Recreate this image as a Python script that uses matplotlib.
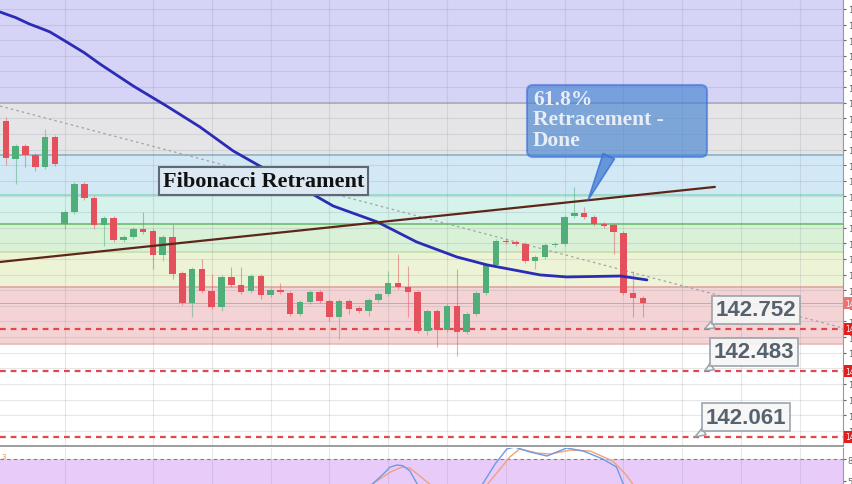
import numpy as np
import matplotlib
matplotlib.use("Agg")
import matplotlib.pyplot as plt
from matplotlib.patches import FancyBboxPatch
from matplotlib.transforms import Affine2D, blended_transform_factory
from matplotlib.ticker import MultipleLocator, NullFormatter

# 4h candles
opens = [144.083, 143.840, 143.923, 143.866, 143.789, 143.981,
         143.424, 143.501, 143.680, 143.590, 143.418, 143.462,
         143.322, 143.341, 143.392, 143.379, 143.226, 143.341,
         143.110, 142.918, 143.136, 142.995, 142.893, 143.085,
         143.034, 142.995, 143.091, 142.970, 143.002, 142.982,
         142.848, 142.925, 142.989, 142.931, 142.829, 142.931,
         142.886, 142.867, 142.938, 142.976, 143.046, 143.021,
         142.989, 142.739, 142.867, 142.746, 142.899, 142.733,
         142.848, 142.982, 143.162, 143.315, 143.309, 143.296,
         143.187, 143.213, 143.290, 143.296, 143.475, 143.494,
         143.469, 143.424, 143.418, 143.366, 142.982, 142.950]
closes = [143.846, 143.923, 143.866, 143.789, 143.981, 143.808,
          143.501, 143.680, 143.590, 143.418, 143.462, 143.322,
          143.341, 143.392, 143.373, 143.226, 143.341, 143.104,
          142.918, 143.136, 142.995, 142.893, 143.085, 143.034,
          142.989, 143.091, 142.970, 143.002, 142.989, 142.848,
          142.925, 142.989, 142.931, 142.829, 142.931, 142.880,
          142.867, 142.938, 142.976, 143.046, 143.021, 142.989,
          142.739, 142.867, 142.746, 142.899, 142.733, 142.848,
          142.982, 143.162, 143.315, 143.309, 143.296, 143.187,
          143.213, 143.290, 143.296, 143.469, 143.494, 143.469,
          143.424, 143.411, 143.373, 142.982, 142.950, 142.918]
highs = [144.109, 143.936, 143.936, 143.878, 144.032, 143.994,
         143.514, 143.693, 143.693, 143.603, 143.475, 143.475,
         143.354, 143.405, 143.501, 143.392, 143.354, 143.424,
         143.123, 143.149, 143.200, 143.104, 143.098, 143.149,
         143.149, 143.104, 143.104, 143.014, 143.046, 142.995,
         142.938, 143.002, 143.002, 142.944, 142.944, 142.944,
         142.899, 142.950, 142.989, 143.123, 143.232, 143.155,
         143.002, 142.880, 142.880, 142.912, 143.136, 142.861,
         142.995, 143.174, 143.328, 143.328, 143.322, 143.309,
         143.226, 143.302, 143.309, 143.482, 143.661, 143.533,
         143.482, 143.437, 143.430, 143.379, 143.123, 142.963]
lows = [143.802, 143.680, 143.789, 143.763, 143.776, 143.795,
        143.392, 143.488, 143.578, 143.392, 143.283, 143.309,
        143.309, 143.328, 143.360, 143.136, 143.187, 143.072,
        142.906, 142.829, 142.982, 142.880, 142.867, 143.021,
        142.976, 142.982, 142.944, 142.957, 142.976, 142.835,
        142.835, 142.912, 142.918, 142.803, 142.688, 142.848,
        142.854, 142.835, 142.925, 142.963, 143.008, 142.829,
        142.726, 142.714, 142.637, 142.733, 142.579, 142.720,
        142.835, 142.970, 143.149, 143.296, 143.283, 143.174,
        143.136, 143.200, 143.277, 143.283, 143.462, 143.456,
        143.411, 143.398, 143.232, 142.970, 142.829, 142.829]

# moving average (blue)
ma_x = [-0.6, 1.0, 2.4, 3.5, 4.5, 6.2, 8.0, 9.6, 13.0, 16.4, 19.8, 23.2, 25.9,
        30.0, 33.4, 37.9, 41.9, 46.0, 49.1, 54.5, 57.2, 62.7, 65.4]
ma_y = [144.781, 144.745, 144.704, 144.678, 144.653, 144.589, 144.520, 144.448,
        144.307, 144.179, 144.045, 143.891, 143.795, 143.661, 143.539, 143.437,
        143.309, 143.213, 143.162, 143.098, 143.085, 143.091, 143.066]

# trend line (brown) and dotted line (gray)
trend_x = [-0.6, 72.3]
trend_y = [143.181, 143.661]
dot_x = [-0.6, 85.4]
dot_y = [144.179, 142.758]

# fibonacci levels, bottom to top
fib_levels = [142.656, 143.020, 143.245, 143.427, 143.609, 143.868, 144.198]
fib_colors = ['#f4d3d5', '#edf4d6', '#d8f1d7', '#d5f2eb', '#d3e8f5', '#e5e5e7', '#d5d3f6']
fib_lines = ['#e8b4b4', '#dda0a0', '#c5dca8', '#62b866', '#8ad6c4', '#86acc4', '#a9a9bd']

# support levels
levels = [142.752, 142.483, 142.061]

# stochastic
stoch_k_x = [30, 36.5, 37.1, 38.5, 39.2, 39.9, 40.5, 41.2, 42.0, 42.8,
             45, 48, 48.6, 49.9, 51.1, 51.9, 53.5, 55.2, 57.2, 58.9,
             60.9, 62.3, 63.0, 63.6, 66]
stoch_k = [20, 30, 42, 59.5, 69, 71.8, 70.8, 64, 45, 30,
           20, 30, 45, 73, 93.7, 96.4, 89.6, 84.1, 95.1, 91,
           80, 69, 45, 30, 20]
stoch_d_x = [30, 36.7, 37.3, 39.2, 40.4, 41.2, 42.2, 43.3, 44.0, 46,
             48.5, 49.1, 50.4, 51.4, 52.4, 54.2, 55.5, 57.6, 59.6, 61.9,
             63.2, 64.0, 64.6, 67]
stoch_d = [20, 30, 45, 62, 69, 67.7, 57, 45, 30, 20,
           30, 45, 66, 82.7, 93.7, 88.2, 86.8, 92.3, 91, 77.3,
           59.5, 45, 30, 20]

day_lines = [6, 15, 21, 27, 33, 39, 45, 51, 57, 63, 69, 75, 81]

W, H, DPI = 852, 485, 100
fig = plt.figure(figsize=(W / DPI, H / DPI), dpi=DPI)
fig.patch.set_facecolor('white')
# pixel coords, origin top-left, for the pasted-on notes
P = Affine2D().scale(1 / DPI, -1 / DPI).translate(0, H / DPI) + fig.dpi_scale_trans

ax = fig.add_axes([0, 38 / H, 843 / W, 447 / H])
ax2 = fig.add_axes([0, 0, 843 / W, 36 / H])

xlim = (-0.6, 85.4)

# background bands
tops = fib_levels[1:] + [145.5]
for lo, hi, c in zip(fib_levels, tops, fib_colors):
    ax.axhspan(lo, hi, color=c, zorder=0, lw=0)
for lv, c in zip(fib_levels, fib_lines):
    ax.axhline(lv, color=c, lw=1.1, zorder=0.5)

ax.set_axisbelow('line')
ax.set_xticks(day_lines)
ax.yaxis.set_major_locator(MultipleLocator(0.1))
ax.grid(True, color='#8c93a0', alpha=0.22, lw=0.8)

# lines under candles
ax.plot(dot_x, dot_y, color='#a3a3a3', lw=0.9, dashes=(2, 2.5), zorder=2)
for lv in levels:
    ax.axhline(lv, color='#e4474a', lw=1.6, dashes=(2.6, 2.2), zorder=2)
ax.axhline(closes[-1], color='#e79a9a', lw=0.7, zorder=2)

# candles
idx = np.arange(len(opens))
o = np.array(opens)
c = np.array(closes)
up = c >= o
cols = np.where(up, '#4fae79', '#e4505b')
ax.vlines(idx, lows, highs, colors=cols, lw=0.8, alpha=0.5, zorder=2.5)
ax.bar(idx, np.maximum(np.abs(c - o), 0.008), bottom=np.minimum(o, c), width=0.66,
       color=cols, zorder=3, lw=0)

ax.plot(ma_x, ma_y, color='#2b2bb5', lw=2, zorder=4, solid_capstyle='round',
        solid_joinstyle='round')
ax.plot(trend_x, trend_y, color='#5e2619', lw=1.6, zorder=4)

ax.set_xlim(*xlim)
ax.set_ylim(142.003, 144.864)
ax.xaxis.set_major_formatter(NullFormatter())
ax.tick_params(axis='x', length=0)
ax.yaxis.tick_right()
ax.yaxis.set_major_formatter(lambda v, pos: f"{v:.3f}")
ax.tick_params(axis='y', length=2.5, labelsize=6, colors='#666666', pad=1)
for s in ['top', 'left']:
    ax.spines[s].set_visible(False)
ax.spines['right'].set_color('#9a9a9a')
ax.spines['right'].set_linewidth(0.8)
ax.spines['bottom'].set_color('#8c8c8c')
ax.spines['bottom'].set_linewidth(1.2)

# red price tags on the right edge
blend = blended_transform_factory(ax.transAxes, ax.transData)
for lv in levels:
    ax.text(1.003, lv, f"{lv:.3f}", transform=blend, va='center', ha='left',
            fontsize=5.5, color='white', clip_on=False, zorder=10,
            bbox=dict(boxstyle='square,pad=0.25', fc='#e01f1f', ec='none'))
ax.text(1.003, closes[-1], f"{closes[-1]:.3f}", transform=blend, va='center', ha='left',
        fontsize=5.5, color='white', clip_on=False, zorder=10,
        bbox=dict(boxstyle='square,pad=0.25', fc='#e77474', ec='none'))

# "Fibonacci Retrament" label
ax.text(163, 182, "Fibonacci Retrament", transform=P, ha='left', va='center',
        fontsize=16, fontweight='bold', family='Liberation Serif', color='#111111',
        zorder=6, bbox=dict(boxstyle='square,pad=0.18', fc='#dde9f2', ec='#5d6a76', lw=1.5))

# 61.8% callout
box = FancyBboxPatch((527, 86), 180, 72, boxstyle='round,pad=0,rounding_size=6',
                     transform=P, fc='#3f7fd0', ec='#3b6fd6', lw=1.5, alpha=0.62, zorder=6)
ax.add_patch(box)
ax.annotate('', xy=(59.4, 143.578), xycoords='data', xytext=(617, 140), textcoords=P,
            arrowprops=dict(arrowstyle='wedge,tail_width=0.45,shrink_factor=0.5', mutation_scale=20,
                            fc='#4a84d2', ec='#3b6fd6', lw=1.2, alpha=0.8, patchA=box,
                            shrinkA=0, shrinkB=0), zorder=6)
ax.text(533, 90, "61.8%\nRetracement -\nDone", transform=P, ha='left', va='top',
        fontsize=15.5, fontweight='bold', family='Liberation Serif', color='#e9eef6',
        linespacing=1.02, zorder=7)

# price callouts
note_pos = [(756, 311), (754, 353), (746, 418)]
tip_x = [71.3, 71.3, 70.3]
for lv, pos, tx in zip(levels, note_pos, tip_x):
    ax.annotate(f"{lv:.3f}", xy=(tx, lv), xycoords='data', xytext=pos, textcoords=P,
                ha='center', va='center', fontsize=16, fontweight='bold',
                family='Liberation Sans', color='#56626e', zorder=8,
                bbox=dict(boxstyle='square,pad=0.15', fc='#f7f7f7', ec='#9aa3ab', lw=1.3, alpha=0.9),
                arrowprops=dict(arrowstyle='wedge,tail_width=0.35', mutation_scale=16,
                                fc='#f7f7f7', ec='#9aa3ab', lw=1.1, relpos=(0.06, 0.0),
                                shrinkA=0, shrinkB=0))

# stochastic panel
ax2.axhspan(20, 80, color='#e9cbfa', lw=0, zorder=0)
ax2.axhline(80, color='#7b7b8c', lw=0.8, dashes=(3, 3), zorder=1)
ax2.set_axisbelow('line')
ax2.set_xticks(day_lines)
ax2.grid(True, axis='x', color='#8c93a0', alpha=0.22, lw=0.8)
ax2.plot(stoch_d_x, stoch_d, color='#f0a27c', lw=1, zorder=3)
ax2.plot(stoch_k_x, stoch_k, color='#6c9be3', lw=1, zorder=3)
ax2.set_xlim(*xlim)
ax2.set_ylim(45.8, 95.1)
ax2.set_yticks([50, 80])
ax2.xaxis.set_major_formatter(NullFormatter())
ax2.tick_params(axis='x', length=0)
ax2.yaxis.tick_right()
ax2.tick_params(axis='y', length=2.5, labelsize=6, colors='#666666', pad=1)
for s in ['top', 'left', 'bottom']:
    ax2.spines[s].set_visible(False)
ax2.spines['right'].set_color('#9a9a9a')
ax2.spines['right'].set_linewidth(0.8)
ax2.text(0.002, 0.86, "3", transform=ax2.transAxes, fontsize=5, color='#e0904a', va='top')

fig.savefig('out.png', dpi=DPI)
